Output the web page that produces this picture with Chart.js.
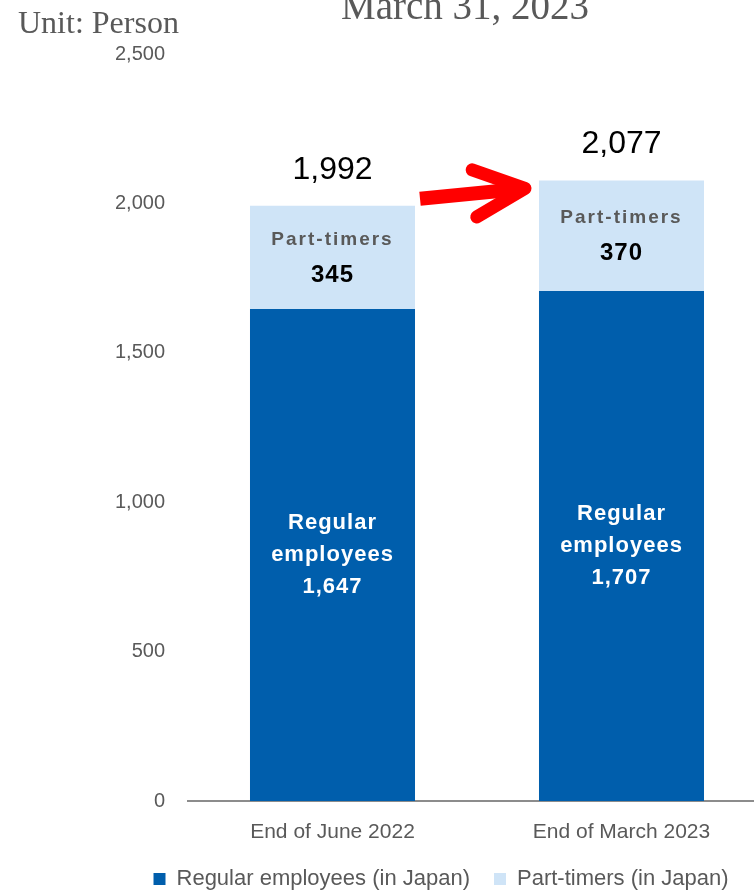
<!DOCTYPE html>
<html>
<head>
<meta charset="utf-8">
<script src="https://cdn.jsdelivr.net/npm/chart.js@4.4.1/dist/chart.umd.min.js"></script>
<style>
  html, body { margin: 0; padding: 0; background: #fff; overflow: hidden; }
  #wrap { position: relative; width: 754px; height: 894px; overflow: hidden; }
  #c { position: absolute; left: 0; top: 0; }
</style>
</head>
<body>
<div id="wrap"><canvas id="c" width="770" height="900"></canvas></div>
<script>
// Headcount at each period end
const categories = ['End of June 2022', 'End of March 2023'];
const regularEmployees = [1647, 1707];
const partTimers = [345, 370];
const seriesNames = ['Regular employees (in Japan)', 'Part-timers (in Japan)'];
const yTicks = [0, 500, 1000, 1500, 2000, 2500];
const chartTitle = 'March 31, 2023';
const unitLabel = 'Unit: Person';

const totals = categories.map((_, i) => regularEmployees[i] + partTimers[i]);
const fmt = v => Number(v).toLocaleString('en-US');

const DARK = '#005EAC';
const LIGHT = '#CFE4F7';
const GREY = '#595959';
const SANS = '"Liberation Sans", Arial, sans-serif';
const SERIF = '"Liberation Serif", "Times New Roman", serif';

// Unit caption and (partly clipped) heading
const headerPlugin = {
  id: 'header',
  afterDraw(chart) {
    const ctx = chart.ctx;
    ctx.save();
    ctx.fillStyle = GREY;
    ctx.textBaseline = 'alphabetic';
    ctx.font = '32px ' + SERIF;
    ctx.textAlign = 'left';
    ctx.fillText(unitLabel, 18, 33);
    ctx.font = '39px ' + SERIF;
    ctx.textAlign = 'center';
    ctx.fillText(chartTitle, 465, 19);
    ctx.restore();
  }
};

// Keep the legend row centred under the plot rather than the full width
const legendShiftPlugin = {
  id: 'legendShift',
  afterLayout(chart) {
    if (chart.legend) chart.legend.left = 116;
  }
};

// Text inside and above each stacked bar
const barLabelPlugin = {
  id: 'barLabels',
  afterDatasetsDraw(chart) {
    const ctx = chart.ctx;
    const regMeta = chart.getDatasetMeta(0);
    const ptMeta = chart.getDatasetMeta(1);
    ctx.save();
    ctx.textAlign = 'center';
    ctx.textBaseline = 'middle';
    categories.forEach((_, i) => {
      const reg = regMeta.data[i];
      const pt = ptMeta.data[i];
      const x = reg.x;

      // regular employees block
      const regMid = (reg.y + reg.base) / 2;
      ctx.fillStyle = '#ffffff';
      ctx.font = 'bold 22px ' + SANS;
      ctx.letterSpacing = '1px';
      ctx.fillText('Regular', x, regMid - 32);
      ctx.fillText('employees', x, regMid);
      ctx.fillText(fmt(regularEmployees[i]), x, regMid + 32);

      // part-timers block
      const ptMid = (pt.y + pt.base) / 2;
      ctx.fillStyle = GREY;
      ctx.font = 'bold 19px ' + SANS;
      ctx.letterSpacing = '2px';
      ctx.fillText('Part-timers', x, ptMid - 18);
      ctx.fillStyle = '#000000';
      ctx.font = 'bold 24px ' + SANS;
      ctx.letterSpacing = '1px';
      ctx.fillText(fmt(partTimers[i]), x, ptMid + 18);

      // total on top
      ctx.font = '32px ' + SANS;
      ctx.letterSpacing = '0px';
      ctx.fillText(fmt(totals[i]), x, pt.y - 36);
    });
    ctx.restore();
  }
};

// Red growth arrow between the two bar tops
const arrowPlugin = {
  id: 'growthArrow',
  afterDatasetsDraw(chart) {
    const meta = chart.getDatasetMeta(1);
    const a = meta.data[0], b = meta.data[1];
    if (!a || !b) return;
    const aRight = a.x + a.width / 2;
    const bLeft = b.x - b.width / 2;
    const x0 = aRight + 5, y0 = a.y - 7;
    const x1 = bLeft - 14, y1 = b.y + 8;
    const ang = Math.atan2(y1 - y0, x1 - x0);
    const back = ang + Math.PI;
    const spread = 25 * Math.PI / 180;
    const len = 56;
    const ctx = chart.ctx;
    ctx.save();
    ctx.strokeStyle = '#FF0000';
    ctx.lineWidth = 14;
    ctx.lineCap = 'butt';
    ctx.beginPath();
    ctx.moveTo(x0, y0);
    ctx.lineTo(x1 - 8 * Math.cos(ang), y1 - 8 * Math.sin(ang));
    ctx.stroke();
    ctx.lineWidth = 13;
    ctx.lineCap = 'round';
    ctx.lineJoin = 'round';
    ctx.beginPath();
    ctx.moveTo(x1 + len * Math.cos(back + spread), y1 + len * Math.sin(back + spread));
    ctx.lineTo(x1, y1);
    ctx.lineTo(x1 + len * Math.cos(back - spread), y1 + len * Math.sin(back - spread));
    ctx.stroke();
    ctx.restore();
  }
};

new Chart(document.getElementById('c'), {
  type: 'bar',
  data: {
    labels: categories,
    datasets: [
      { label: seriesNames[0], data: regularEmployees, backgroundColor: DARK, borderWidth: 0 },
      { label: seriesNames[1], data: partTimers, backgroundColor: LIGHT, borderWidth: 0 }
    ]
  },
  options: {
    responsive: false,
    devicePixelRatio: 1,
    animation: false,
    layout: { padding: { left: 90, right: 4, top: 54, bottom: 0 } },
    datasets: { bar: { categoryPercentage: 1, barPercentage: 0.571 } },
    scales: {
      x: {
        stacked: true,
        grid: { display: false, drawTicks: false },
        border: { display: true, color: '#8C8C8C', width: 2 },
        ticks: { color: GREY, font: { family: SANS, size: 21 }, padding: 19 },
        afterFit(s) { s.height = 43; }
      },
      y: {
        stacked: true,
        min: 0,
        max: 2500,
        grid: { display: false, drawTicks: false },
        border: { display: false },
        afterBuildTicks(s) { s.ticks = yTicks.map(v => ({ value: v })); },
        ticks: {
          color: GREY,
          font: { family: SANS, size: 20 },
          padding: 23,
          callback: v => fmt(v)
        },
        afterFit(s) { s.width = 98; }
      }
    },
    plugins: {
      legend: {
        position: 'bottom',
        labels: {
          color: GREY,
          font: { family: SANS, size: 22 },
          boxWidth: 12,
          boxHeight: 12,
          padding: 24
        }
      },
      tooltip: { enabled: false },
      title: { display: false }
    }
  },
  plugins: [headerPlugin, legendShiftPlugin, barLabelPlugin, arrowPlugin]
});
</script>
</body>
</html>
